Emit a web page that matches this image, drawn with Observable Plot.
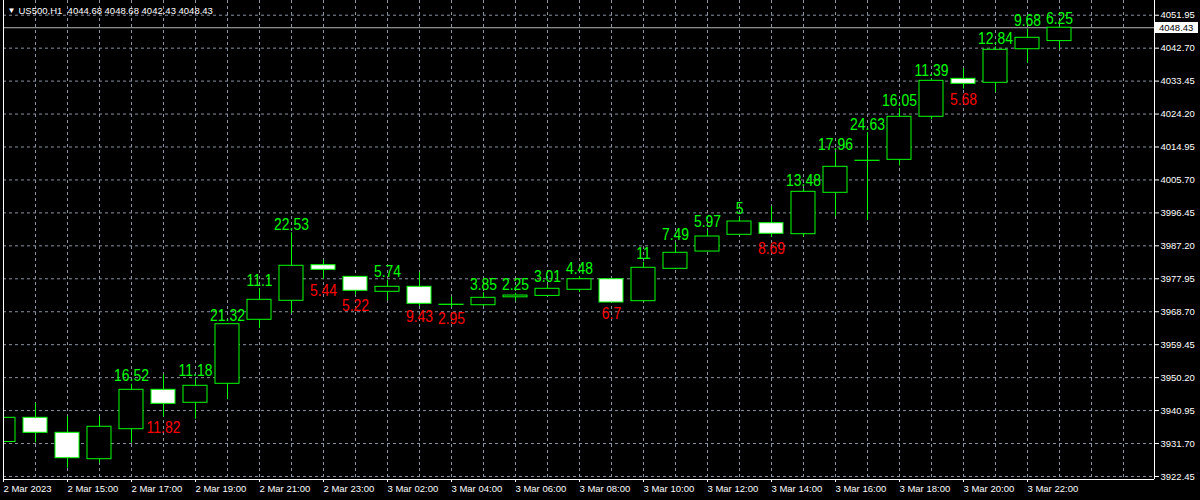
<!DOCTYPE html>
<html>
<head>
<meta charset="utf-8">
<script src="https://cdn.jsdelivr.net/npm/d3@7"></script>
<script src="https://cdn.jsdelivr.net/npm/@observablehq/plot@0.6"></script>
<style>
  html, body { margin: 0; padding: 0; background: #000; }
  #chart { width: 1200px; height: 500px; overflow: hidden; }
</style>
</head>
<body>
<div id="chart"></div>
<script>
// US500 hourly candles, 2 Mar 2023 13:00 -> 3 Mar 2023 23:00
const symbol = "US500,H1";
const opens  = [3932.13, 3938.92, 3934.71, 3927.30, 3935.72, 3946.78, 3943.14, 3948.47, 3966.44, 3971.77,
                3981.76, 3978.50, 3974.30, 3975.70, 3970.68, 3970.53, 3972.75, 3973.15, 3974.86, 3977.83,
                3971.66, 3980.75, 3985.60, 3990.30, 3993.56, 3990.47, 4002.09, 4011.05, 4011.35, 4023.43,
                4034.09, 4032.97, 4042.40, 4044.68];
const highs  = [3939.50, 3942.94, 3939.29, 3939.29, 3948.31, 3951.00, 3949.71, 3965.30, 3975.09, 3990.82,
                3983.17, 3978.60, 3977.51, 3979.63, 3972.78, 3974.04, 3973.88, 3976.11, 3978.58, 3977.90,
                3982.60, 3988.05, 3991.51, 3995.24, 3998.24, 4003.16, 4013.34, 4018.93, 4025.67, 4033.98,
                4036.90, 4043.07, 4048.08, 4048.68];
const lows   = [3931.50, 3931.91, 3924.77, 3926.18, 3931.79, 3939.18, 3938.53, 3943.98, 3963.99, 3968.29,
                3977.73, 3973.38, 3971.77, 3970.20, 3969.83, 3970.19, 3971.63, 3973.10, 3974.10, 3971.20,
                3971.60, 3980.56, 3985.54, 3990.24, 3989.55, 3989.68, 3995.38, 3994.30, 4009.62, 4022.59,
                4031.22, 4030.23, 4038.40, 4042.43];
const closes = [3938.92, 3934.71, 3927.58, 3936.40, 3946.78, 3942.85, 3947.91, 3965.20, 3972.05, 3981.60,
                3980.47, 3974.58, 3975.70, 3970.93, 3970.62, 3972.61, 3973.25, 3975.14, 3977.83, 3971.29,
                3981.04, 3985.25, 3989.82, 3994.03, 3990.58, 4002.37, 4009.39, 4011.10, 4023.43, 4033.53,
                4032.69, 4042.24, 4045.61, 4048.43];
// the range indicator starts at the fifth bar
const firstRangeBar = 4;

// axis ticks
const priceTicks = [3922.45, 3931.70, 3940.95, 3950.20, 3959.45, 3968.70, 3977.95, 3987.20,
                    3996.45, 4005.70, 4014.95, 4024.20, 4033.45, 4042.70, 4051.95];
const timeTickBars = [0, 2, 4, 6, 8, 10, 12, 14, 16, 18, 20, 22, 24, 26, 28, 30, 32];
const timeTickLabels = ["2 Mar 2023", "2 Mar 15:00", "2 Mar 17:00", "2 Mar 19:00", "2 Mar 21:00",
                        "2 Mar 23:00", "3 Mar 02:00", "3 Mar 04:00", "3 Mar 06:00", "3 Mar 08:00",
                        "3 Mar 10:00", "3 Mar 12:00", "3 Mar 14:00", "3 Mar 16:00", "3 Mar 18:00",
                        "3 Mar 20:00", "3 Mar 22:00"];

const candles = opens.map((open, i) => ({
  i, open, high: highs[i], low: lows[i], close: closes[i],
  up: closes[i] >= opens[i],
  range: String(+(highs[i] - lows[i]).toFixed(2))
}));
const ranged = candles.filter(d => d.i >= firstRangeBar);
const last = candles[candles.length - 1];

const W = 1200, H = 500;
const mL = 3, mR = 46, mT = 0, mB = 21;
const barStep = 32;                       // pixels per bar
const xMax = (W - mL - mR) / barStep;     // bars visible across the frame
const yDomain = [3921.60, 4056.08];

const green = "#00ff00";
const red = "#ff0000";
const gridColor = "#8a94a2";
const axisFont = "'Liberation Sans', Arial, sans-serif";
const labelFont = "'Liberation Sans', Arial, sans-serif";
const labelSize = 17;
const labelSquash = 0.82;                 // narrow face for the range labels
const halfBody = 0.375;

// last-price tag on the right axis
function priceTag(value) {
  return (index, scales, values, dims) => {
    const y = Math.round(scales.y(value));
    const g = d3.create("svg:g");
    g.append("rect")
      .attr("x", dims.width - dims.marginRight + 1)
      .attr("y", y - 5)
      .attr("width", 43)
      .attr("height", 11)
      .attr("fill", "#fff");
    g.append("text")
      .attr("x", dims.width - dims.marginRight + 5)
      .attr("y", y + 4)
      .attr("text-anchor", "start")
      .attr("fill", "#000")
      .attr("font-family", axisFont)
      .attr("font-size", 9.5)
      .text(value.toFixed(2));
    return g.node();
  };
}

const chart = Plot.plot({
  width: W, height: H,
  marginLeft: mL, marginRight: mR, marginTop: mT, marginBottom: mB,
  style: { background: "#000", color: "#fff", fontFamily: axisFont, fontSize: "9.5px" },
  x: { type: "linear", domain: [0, xMax] },
  y: { type: "linear", domain: yDomain },
  marks: [
    Plot.gridX(d3.range(0, Math.floor(xMax) + 1), { stroke: gridColor, strokeOpacity: 1, strokeDasharray: "3,3" }),
    Plot.gridY(priceTicks, { stroke: gridColor, strokeOpacity: 1, strokeDasharray: "3,3" }),
    Plot.ruleY([last.close], { stroke: "#b8b8b8" }),
    // wicks
    Plot.ruleX(candles, { x: "i", y1: "low", y2: "high", stroke: green, clip: true }),
    // bodies: black for rising bars, white for falling bars
    Plot.rect(candles, {
      x1: d => d.i - halfBody, x2: d => d.i + halfBody,
      y1: "open", y2: "close",
      fill: d => d.up ? "#000" : "#fff",
      stroke: green, clip: true
    }),
    // high-low range labels
    Plot.text(ranged.filter(d => d.up), {
      x: "i", y: "high", text: "range", fill: green,
      lineAnchor: "bottom", dy: -3, fontFamily: labelFont, fontSize: labelSize
    }),
    Plot.text(ranged.filter(d => !d.up), {
      x: "i", y: "low", text: "range", fill: red,
      lineAnchor: "top", dy: 4, fontFamily: labelFont, fontSize: labelSize
    }),
    // frame
    Plot.ruleX([0, xMax], { stroke: "#fff" }),
    Plot.ruleY([yDomain[0]], { stroke: "#fff" }),
    Plot.axisY(priceTicks, {
      anchor: "right", tickSize: 4, tickPadding: 2, label: null,
      tickFormat: d => d.toFixed(2), stroke: "#fff", fill: "#fff", textAnchor: "start"
    }),
    Plot.axisX(timeTickBars, {
      anchor: "bottom", tickSize: 3, tickPadding: 3, label: null,
      tickFormat: i => timeTickLabels[timeTickBars.indexOf(i)],
      stroke: "#fff", fill: "#fff", textAnchor: "start"
    }),
    // header
    Plot.text(["▼"], { frameAnchor: "top-left", dx: 4, dy: 12, lineAnchor: "bottom", fill: "#fff", fontSize: 8 }),
    Plot.text([`${symbol}  ${last.open.toFixed(2)} ${last.high.toFixed(2)} ${last.low.toFixed(2)} ${last.close.toFixed(2)}`], {
      frameAnchor: "top-left", dx: 15, dy: 13.3, lineAnchor: "bottom", textAnchor: "start",
      fill: "#fff", fontSize: 9.5
    }),
    priceTag(last.close)
  ]
});

// condense the range labels horizontally around their anchor points
chart.querySelectorAll(`g[font-size="${labelSize}"] text`).forEach(t => {
  const tr = t.getAttribute("transform");
  if (tr) {
    t.setAttribute("transform", `${tr} scale(${labelSquash},1)`);
  } else {
    const x = +t.getAttribute("x") || 0;
    t.setAttribute("transform", `translate(${x},0) scale(${labelSquash},1) translate(${-x},0)`);
  }
});

document.getElementById("chart").append(chart);
</script>
</body>
</html>
